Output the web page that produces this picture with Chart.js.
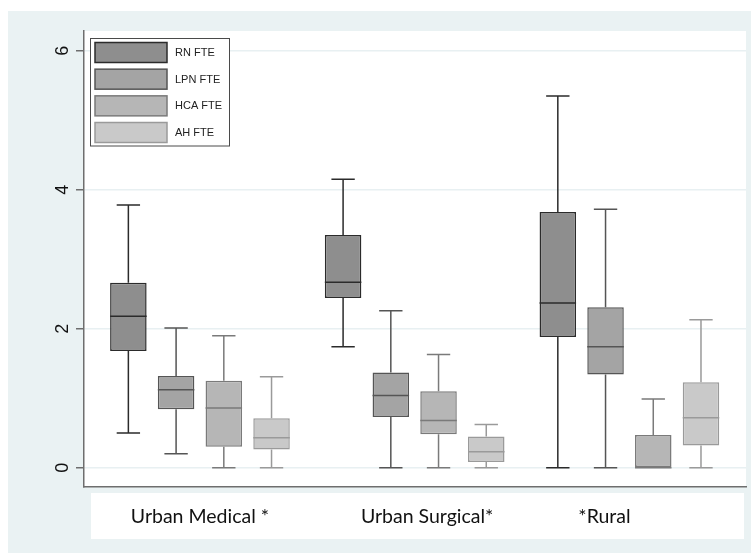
<!DOCTYPE html>
<html><head><meta charset="utf-8">
<script src="https://cdn.jsdelivr.net/npm/chart.js@4/dist/chart.umd.min.js"></script>
<style>html,body{margin:0;padding:0;background:#fff}canvas{display:block}</style>
</head><body>
<canvas id="c" width="751" height="554"></canvas>
<script>
// Categories (labels padded as they appear centred in the original)
const groups = ['Urban Medical *', '     Urban Surgical*', '*Rural          '];
const seriesNames = ['RN FTE', 'LPN FTE', 'HCA FTE', 'AH FTE'];
// five-number summaries per group: [min, q1, median, q3, max]
const rnFte  = [[0.50, 1.68, 2.18, 2.66, 3.78], [1.74, 2.44, 2.67, 3.35, 4.15], [0.00, 1.88, 2.37, 3.68, 5.35]];
const lpnFte = [[0.20, 0.84, 1.12, 1.32, 2.01], [0.00, 0.73, 1.04, 1.37, 2.26], [0.00, 1.34, 1.74, 2.31, 3.72]];
const hcaFte = [[0.00, 0.30, 0.86, 1.25, 1.90], [0.00, 0.48, 0.68, 1.10, 1.63], [0.00, 0.00, 0.00, 0.47, 0.99]];
const ahFte  = [[0.00, 0.26, 0.43, 0.71, 1.31], [0.00, 0.08, 0.23, 0.45, 0.62], [0.00, 0.32, 0.72, 1.23, 2.13]];
const yTicks = [0, 2, 4, 6];

const fills   = ['#8e8e8e', '#a4a4a4', '#b6b6b6', '#c9c9c9'];
const borders = ['#2b2b2b', '#555555', '#7a7a7a', '#9a9a9a'];
const allStats = [rnFte, lpnFte, hcaFte, ahFte];

const datasets = allStats.map((stats, si) => ({
  label: seriesNames[si],
  stats: stats,
  data: stats.map((s, gi) => ({ x: gi, y: [s[1], s[3]] })),
  backgroundColor: fills[si],
  borderColor: borders[si],
  borderWidth: 1.5,
  borderSkipped: false,
  categoryPercentage: 0.889,
  barPercentage: 0.765
}));

const boxPlugin = {
  id: 'boxes',
  beforeDraw(chart) {
    const { ctx, chartArea: a } = chart;
    ctx.save();
    ctx.fillStyle = '#ffffff';
    ctx.fillRect(0, 0, chart.width, chart.height);
    ctx.fillStyle = '#eaf2f3';
    ctx.fillRect(8, 11, chart.width - 8, 542);
    ctx.fillStyle = '#ffffff';
    ctx.fillRect(a.left, a.top, a.right - a.left, a.bottom - a.top);
    ctx.fillRect(91, a.bottom + 6, 653, 46);
    ctx.restore();
  },
  afterDatasetsDraw(chart) {
    const y = chart.scales.y;
    const ctx = chart.ctx;
    const px = v => y.getPixelForValue(v);
    chart.data.datasets.forEach((ds, di) => {
      const meta = chart.getDatasetMeta(di);
      meta.data.forEach((bar, gi) => {
        const s = ds.stats[gi];
        const half = bar.width / 2, cap = bar.width * 0.32;
        ctx.save();
        ctx.strokeStyle = ds.borderColor;
        ctx.lineWidth = ds.borderWidth;
        ctx.beginPath();
        ctx.moveTo(bar.x, px(s[3])); ctx.lineTo(bar.x, px(s[4]));
        ctx.moveTo(bar.x, px(s[1])); ctx.lineTo(bar.x, px(s[0]));
        ctx.moveTo(bar.x - cap, px(s[4])); ctx.lineTo(bar.x + cap, px(s[4]));
        ctx.moveTo(bar.x - cap, px(s[0])); ctx.lineTo(bar.x + cap, px(s[0]));
        ctx.moveTo(bar.x - half, px(s[2])); ctx.lineTo(bar.x + half, px(s[2]));
        ctx.stroke();
        ctx.restore();
      });
    });
  },
  afterDraw(chart) {
    const ctx = chart.ctx;
    ctx.save();
    ctx.fillStyle = '#ffffff';
    ctx.fillRect(90.5, 38.5, 139, 107.5);
    ctx.strokeStyle = '#4a4a4a';
    ctx.lineWidth = 1;
    ctx.strokeRect(90.5, 38.5, 139, 107.5);
    chart.data.datasets.forEach((ds, i) => {
      const sy = 42.5 + i * 26.67;
      ctx.fillStyle = ds.backgroundColor;
      ctx.fillRect(95, sy, 72, 20);
      ctx.strokeStyle = ds.borderColor;
      ctx.lineWidth = 1.5;
      ctx.strokeRect(95, sy, 72, 20);
      ctx.fillStyle = '#222';
      ctx.font = "11px 'Liberation Sans', Arial, sans-serif";
      ctx.textBaseline = 'middle';
      ctx.textAlign = 'left';
      ctx.fillText(ds.label, 175, sy + 10.5);
    });
    ctx.restore();
  }
};

new Chart(document.getElementById('c'), {
  type: 'bar',
  data: { datasets },
  plugins: [boxPlugin],
  options: {
    responsive: false,
    devicePixelRatio: 1,
    animation: false,
    layout: { padding: { top: 31, right: 5, left: 0, bottom: 0 } },
    plugins: { legend: { display: false }, tooltip: { enabled: false } },
    scales: {
      x: {
        type: 'linear',
        offset: false,
        min: -0.54,
        max: 2.543,
        afterBuildTicks: s => { s.ticks = groups.map((g, i) => ({ value: i })); },
        afterFit: s => { s.height = 67; },
        grid: { display: false },
        border: { display: true, color: '#6e6e6e', width: 1.5 },
        ticks: {
          autoSkip: false, maxRotation: 0, minRotation: 0, padding: 10,
          color: '#111',
          font: { family: 'Lato', size: 19.5 },
          callback: (v, i) => groups[i]
        }
      },
      y: {
        min: -0.278,
        max: 6.284,
        afterBuildTicks: s => { s.ticks = yTicks.map(v => ({ value: v })); },
        afterFit: s => { s.width = 84; },
        grid: { color: '#e8f0f2', lineWidth: 1.5, tickColor: '#6e6e6e', tickLength: 8, drawTicks: true },
        border: { display: true, color: '#6e6e6e', width: 1.5 },
        ticks: {
          minRotation: 90, maxRotation: 90, crossAlign: 'center', padding: 8,
          color: '#111',
          font: { family: "'Liberation Sans', Arial, sans-serif", size: 18 },
          callback: v => String(v)
        }
      }
    }
  }
});
</script>
</body></html>
